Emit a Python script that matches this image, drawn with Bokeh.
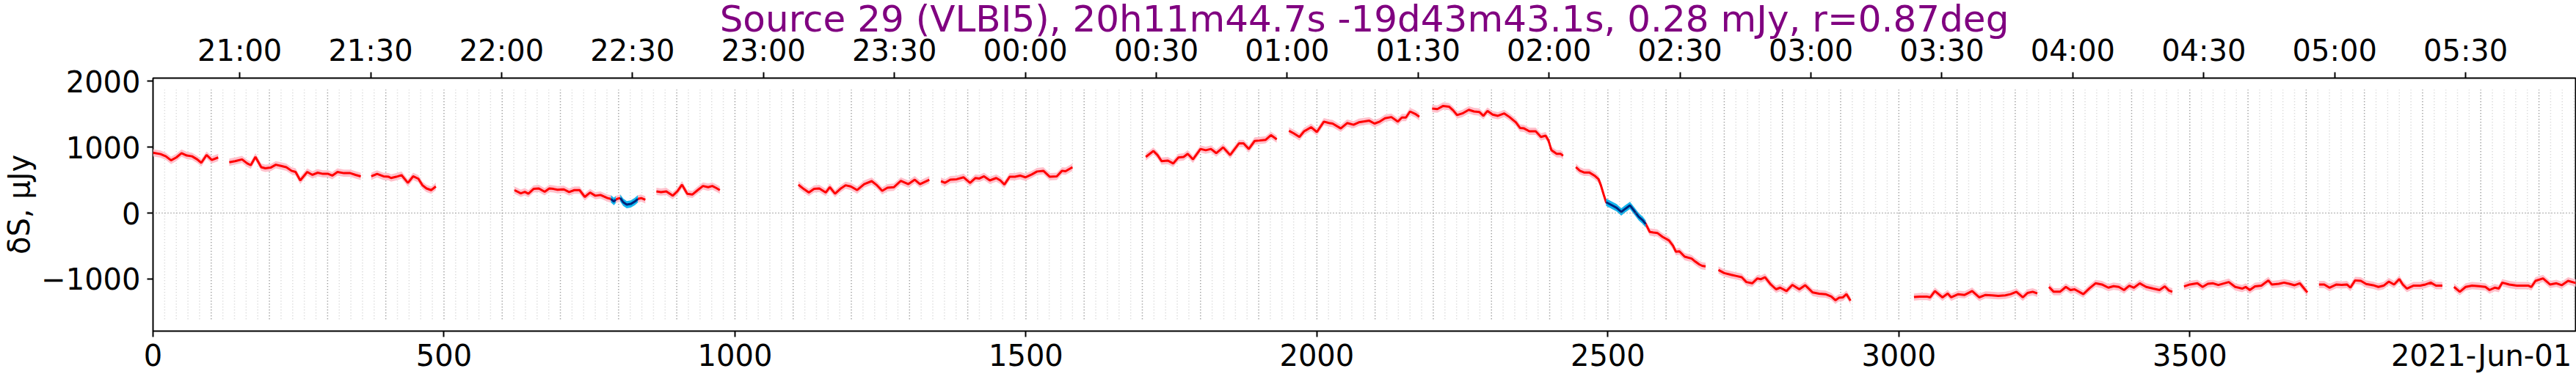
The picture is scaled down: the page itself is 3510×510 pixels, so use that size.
from bokeh.plotting import figure
from bokeh.models import Range1d, LinearAxis, FixedTicker, Span
from bokeh.embed import file_html
from bokeh.resources import INLINE

# ---------------- data (sample index, 8 s per sample; flux in uJy) ----------------
TITLE = "Source 29 (VLBI5), 20h11m44.7s -19d43m43.1s, 0.28 mJy, r=0.87deg"
DATE_LABEL = "2021-Jun-01"
Y_LABEL = "\u03b4S, \u03bcJy"

seg01_x = [0, 13, 22, 31, 40, 49, 58, 67, 76, 83, 92, 101, 112]
seg01_y = [915, 895, 862, 800, 844, 910, 874, 862, 815, 763, 881, 807, 844]
seg02_x = [131, 141, 153, 162, 168, 176, 186, 193, 202, 211, 220, 229, 238, 245, 253, 265, 274, 283, 292, 301, 308, 317, 328, 339, 348, 357]
seg02_y = [771, 789, 815, 753, 727, 852, 697, 679, 690, 734, 716, 697, 642, 624, 496, 624, 580, 613, 595, 595, 569, 624, 606, 606, 580, 558]
seg03_x = [375, 385, 396, 405, 409, 418, 427, 438, 447, 456, 463, 470, 478, 486]
seg03_y = [558, 595, 558, 551, 532, 551, 576, 459, 558, 521, 422, 374, 349, 404]
seg04_x = [621, 632, 639, 645, 654, 663, 673, 681, 688, 695, 706, 715, 724, 733, 742, 751, 760, 769, 781, 787, 792, 795, 799, 803, 808, 814, 821, 828, 833, 839, 846]
seg04_y = [349, 301, 323, 294, 367, 374, 323, 374, 367, 355, 360, 319, 349, 349, 246, 312, 264, 275, 228, 215, 176, 205, 220, 228, 165, 128, 139, 176, 215, 228, 202]
seg05_x = [865, 873, 882, 893, 901, 909, 918, 927, 936, 945, 954, 961, 967, 974]
seg05_y = [330, 319, 330, 264, 330, 430, 294, 283, 349, 411, 393, 411, 385, 349]
seg06_x = [1109, 1118, 1127, 1136, 1145, 1156, 1163, 1172, 1181, 1190, 1199, 1210, 1222, 1235, 1244, 1253, 1262, 1273, 1285, 1298, 1309, 1318, 1334]
seg06_y = [430, 367, 312, 367, 374, 312, 393, 294, 367, 422, 404, 349, 440, 485, 422, 338, 385, 393, 488, 440, 507, 440, 507]
seg07_x = [1354, 1361, 1370, 1381, 1393, 1404, 1413, 1420, 1428, 1438, 1449, 1456, 1463, 1472, 1481, 1490, 1499, 1510, 1519, 1530, 1541, 1553, 1562, 1568, 1580]
seg07_y = [485, 459, 507, 514, 543, 459, 532, 525, 558, 496, 532, 496, 433, 551, 551, 569, 543, 587, 631, 642, 551, 558, 642, 635, 697]
seg08_x = [1706, 1719, 1726, 1733, 1744, 1753, 1762, 1771, 1778, 1787, 1800, 1809, 1818, 1827, 1839, 1851, 1866, 1874, 1883, 1893, 1901, 1912, 1921, 1931]
seg08_y = [852, 943, 881, 789, 797, 753, 844, 852, 899, 815, 973, 954, 973, 910, 998, 881, 1057, 1057, 973, 1094, 1101, 1112, 1182, 1120]
seg09_x = [1952, 1960, 1970, 1978, 1990, 2000, 2012, 2021, 2027, 2041, 2052, 2063, 2072, 2090, 2099, 2108, 2117, 2128, 2139, 2146, 2153, 2160, 2169, 2176]
seg09_y = [1248, 1211, 1156, 1241, 1303, 1230, 1388, 1366, 1358, 1285, 1366, 1340, 1377, 1402, 1358, 1388, 1439, 1457, 1388, 1450, 1450, 1542, 1505, 1461]
seg10_x = [2198, 2207, 2217, 2227, 2234, 2241, 2250, 2261, 2270, 2279, 2286, 2293, 2302, 2311, 2322, 2331, 2342, 2349, 2356, 2365, 2376, 2385, 2393, 2398, 2403, 2412, 2419, 2423]
seg10_y = [1586, 1578, 1626, 1615, 1560, 1487, 1512, 1567, 1542, 1534, 1476, 1549, 1494, 1476, 1512, 1457, 1377, 1292, 1285, 1241, 1241, 1156, 1175, 1101, 954, 899, 899, 870]
seg11_x = [2445, 2452, 2459, 2468, 2477, 2484, 2488, 2493, 2497, 2509, 2515, 2523, 2530, 2538, 2545, 2553, 2560, 2565, 2572, 2578, 2585, 2594, 2605, 2612, 2617, 2623, 2632, 2644, 2650, 2657, 2662, 2668]
seg11_y = [697, 642, 617, 617, 569, 514, 422, 275, 165, 110, 81, 18, 66, 117, 37, -55, -110, -165, -286, -294, -301, -360, -415, -496, -587, -580, -661, -690, -734, -778, -800, -808]
seg12_x = [2690, 2700, 2712, 2721, 2730, 2738, 2748, 2757, 2763, 2770, 2780, 2789, 2796, 2807, 2817, 2829, 2839, 2852, 2863, 2874, 2884, 2891, 2897, 2904, 2910, 2917]
seg12_y = [-863, -910, -936, -954, -973, -1046, -1065, -991, -1002, -973, -1083, -1156, -1131, -1182, -1090, -1156, -1094, -1204, -1222, -1230, -1266, -1322, -1285, -1278, -1230, -1329]
seg13_x = [3026, 3036, 3048, 3054, 3062, 3075, 3084, 3090, 3102, 3113, 3126, 3138, 3149, 3160, 3171, 3183, 3192, 3202, 3213, 3221, 3230, 3238]
seg13_y = [-1274, -1266, -1266, -1278, -1182, -1278, -1219, -1278, -1230, -1241, -1182, -1278, -1241, -1248, -1255, -1248, -1230, -1193, -1278, -1212, -1193, -1219]
seg14_x = [3258, 3266, 3277, 3287, 3295, 3302, 3317, 3328, 3338, 3349, 3360, 3369, 3378, 3387, 3396, 3404, 3414, 3425, 3437, 3448, 3457, 3464, 3470]
seg14_y = [-1120, -1193, -1193, -1120, -1167, -1156, -1230, -1138, -1065, -1083, -1131, -1109, -1120, -1167, -1101, -1131, -1065, -1120, -1145, -1167, -1112, -1174, -1193]
seg15_x = [3490, 3500, 3513, 3522, 3531, 3540, 3549, 3567, 3578, 3590, 3596, 3603, 3612, 3623, 3635, 3641, 3653, 3662, 3671, 3680, 3689, 3702]
seg15_y = [-1112, -1083, -1065, -1120, -1072, -1065, -1090, -1046, -1120, -1145, -1120, -1167, -1112, -1101, -1021, -1083, -1072, -1054, -1072, -1094, -1065, -1204]
seg16_x = [3722, 3731, 3740, 3752, 3761, 3770, 3776, 3784, 3794, 3803, 3815, 3824, 3833, 3842, 3851, 3860, 3866, 3873, 3884, 3896, 3905, 3914, 3923, 3934]
seg16_y = [-1083, -1083, -1131, -1083, -1090, -1083, -1131, -1021, -1028, -1076, -1094, -1120, -1101, -1039, -1083, -1002, -1083, -1145, -1101, -1101, -1083, -1054, -1101, -1101]
seg17_x = [3954, 3964, 3974, 3985, 3997, 4008, 4015, 4024, 4031, 4037, 4049, 4062, 4073, 4082, 4087, 4094, 4107, 4119, 4130, 4139, 4150, 4165]
seg17_y = [-1120, -1193, -1120, -1101, -1109, -1120, -1167, -1131, -1145, -1054, -1083, -1101, -1101, -1101, -1120, -1028, -991, -1083, -1065, -1094, -1028, -1065]

# flux uncertainty (uJy), drawn as a band around the curve
flux_err = 55
# sample ranges flagged (drawn in blue)
flagged_ranges = [(787, 795), (803, 833), (2497, 2565)]

# axes
x_ticks = [0, 500, 1000, 1500, 2000, 2500, 3000, 3500]
date_tick = 4001          # where the date text sits on the bottom axis
y_ticks = [-1000, 0, 1000, 2000]
time_labels = ["21:00", "21:30", "22:00", "22:30", "23:00", "23:30", "00:00", "00:30", "01:00",
               "01:30", "02:00", "02:30", "03:00", "03:30", "04:00", "04:30", "05:00", "05:30"]
start_time = "20:40:08"   # time of sample 0
sample_seconds = 8
x_limits = (0, 4163)
y_limits = (-1790, 2048)
grid_minor_step = 20
grid_major_step = 100
grid_y_extent = (-1610, 1870)

segments = [(seg01_x, seg01_y), (seg02_x, seg02_y), (seg03_x, seg03_y), (seg04_x, seg04_y),
            (seg05_x, seg05_y), (seg06_x, seg06_y), (seg07_x, seg07_y), (seg08_x, seg08_y),
            (seg09_x, seg09_y), (seg10_x, seg10_y), (seg11_x, seg11_y), (seg12_x, seg12_y),
            (seg13_x, seg13_y), (seg14_x, seg14_y), (seg15_x, seg15_y), (seg16_x, seg16_y),
            (seg17_x, seg17_y)]

FONT = "DejaVu Sans"
RED, PINK = "#ff0000", "#ffc0cb"
BLUE, LIGHTBLUE = "#00237a", "#10b8f0"


def to_sec(hms):
    parts = [int(v) for v in hms.split(":")]
    while len(parts) < 3:
        parts.append(0)
    return parts[0] * 3600 + parts[1] * 60 + parts[2]


t0 = to_sec(start_time)
time_pos = []
for lab in time_labels:
    s = to_sec(lab)
    if s < t0:
        s += 24 * 3600
    time_pos.append(int(round((s - t0) / sample_seconds)))

p = figure(width=3510, height=510,
           x_range=Range1d(*x_limits), y_range=Range1d(*y_limits),
           output_backend="svg", toolbar_location=None,
           min_border_left=206, min_border_right=1, min_border_top=106, min_border_bottom=56)
p.xgrid.visible = False
p.ygrid.visible = False
p.outline_line_color = "black"
p.outline_line_width = 2
p.background_fill_color = "white"
p.border_fill_color = "white"

bottom_axis = p.below[0]
left_axis = p.left[0]
top_axis = LinearAxis(ticker=FixedTicker(ticks=time_pos),
                      major_label_overrides={k: v for k, v in zip(time_pos, time_labels)})
p.add_layout(top_axis, "above")

bottom_axis.ticker = FixedTicker(ticks=x_ticks + [date_tick], minor_ticks=x_ticks)
bottom_axis.major_label_overrides = {date_tick: DATE_LABEL}
left_axis.ticker = FixedTicker(ticks=y_ticks)
left_axis.major_label_overrides = {t: (("\u2212" + str(-t)) if t < 0 else str(t)) for t in y_ticks}

for ax in [bottom_axis, left_axis, top_axis]:
    ax.major_label_text_font = FONT
    ax.major_label_text_font_size = "40px"
    ax.major_label_text_color = "black"
    ax.major_tick_in = 0
    ax.major_tick_out = 8
    ax.major_tick_line_width = 2
    ax.major_tick_line_color = "black"
    ax.minor_tick_line_color = None
    ax.axis_line_color = None

# bottom axis: tick marks drawn as "minor" ticks so the date label gets no mark
bottom_axis.major_tick_line_color = None
bottom_axis.minor_tick_in = 0
bottom_axis.minor_tick_out = 8
bottom_axis.minor_tick_line_width = 2
bottom_axis.minor_tick_line_color = "black"
bottom_axis.major_label_standoff = 2

top_axis.major_label_standoff = 7

# title: its panel is shrunk (negative standoff) so it may overlap the blank top area
p.title.text = TITLE
p.title.align = "center"
p.title.vertical_align = "bottom"
p.title.standoff = -24
p.title.text_font = FONT
p.title.text_font_size = "50px"
p.title.text_font_style = "normal"
p.title.text_color = "#800080"

left_axis.major_label_standoff = 9
left_axis.axis_label = Y_LABEL
left_axis.axis_label_text_font = FONT
left_axis.axis_label_text_font_size = "40px"
left_axis.axis_label_text_font_style = "normal"
left_axis.axis_label_text_color = "black"
left_axis.axis_label_standoff = 4

# dotted grid
minor_x = [v for v in range(grid_minor_step, x_limits[1], grid_minor_step) if v % grid_major_step]
major_x = list(range(grid_major_step, x_limits[1], grid_major_step))
p.segment(x0=minor_x, x1=minor_x, y0=grid_y_extent[0], y1=grid_y_extent[1],
          line_color="#cfcfcf", line_width=1.5, line_dash="1 3")
p.segment(x0=major_x, x1=major_x, y0=grid_y_extent[0], y1=grid_y_extent[1],
          line_color="#808080", line_width=1.5, line_dash="1 3")
p.add_layout(Span(location=0, dimension="width", line_color="#808080",
                  line_width=1.5, line_dash="1 3"))

# curves with error bands
for xs, ys in segments:
    lo = [v - flux_err for v in ys]
    hi = [v + flux_err for v in ys]
    p.varea(x=xs, y1=lo, y2=hi, fill_color=PINK)
for xs, ys in segments:
    p.line(xs, ys, line_color=RED, line_width=3)
for a, b in flagged_ranges:
    for xs, ys in segments:
        idx = [i for i, v in enumerate(xs) if a <= v <= b]
        if len(idx) > 1:
            bx = [xs[i] for i in idx]
            by = [ys[i] for i in idx]
            p.varea(x=bx, y1=[v - flux_err for v in by], y2=[v + flux_err for v in by],
                    fill_color=LIGHTBLUE)
            p.line(bx, by, line_color=BLUE, line_width=3)

open("out.html", "w").write(file_html(p, INLINE))
